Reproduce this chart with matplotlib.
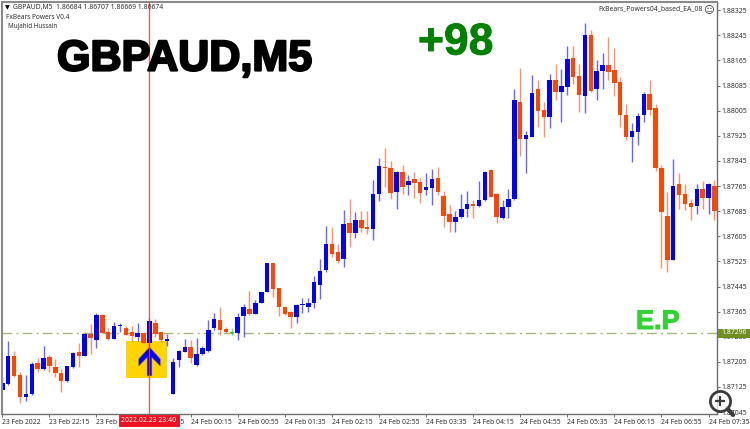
import matplotlib
matplotlib.use("Agg")
import matplotlib.pyplot as plt
import matplotlib.patheffects as pe
import numpy as np
from matplotlib.lines import Line2D
from matplotlib.patches import Rectangle
from matplotlib.path import Path

plt.rcParams["font.family"] = ["Noto Sans", "DejaVu Sans"]

# candles in points above 1.87000
BASE_PRICE = 1.87
POINT = 0.00001

open_pts = [
    116, 135, 225, 163, 94, 102, 201, 183, 220, 190,
    171, 145, 190, 237, 225, 295, 275, 354, 299, 279,
    318, 314, 299, 283, 297, 264, 328, 299, 270, 104,
    211, 238, 253, 195, 231, 240, 312, 337, 309, 298,
    298, 352, 372, 359, 391, 428, 520, 440, 379, 365,
    347, 387, 380, 391, 451, 496, 580, 556, 532, 646,
    616, 657, 633, 628, 740, 824, 823, 745, 809, 768,
    786, 779, 752, 759, 790, 734, 676, 651, 665, 693,
    709, 700, 719, 815, 741, 663, 698, 724, 1034, 915,
    922, 1073, 1007, 986, 1104, 1063, 1081, 1172, 1114, 1051,
    1246, 1074, 1130, 1150, 1134, 1095, 990, 920, 937, 990,
    1058, 1013, 823, 671, 529, 773, 739, 710, 700, 755,
    727, 765,
]
high_pts = [
    156, 273, 240, 172, 162, 206, 217, 254, 227, 214,
    183, 192, 236, 264, 296, 325, 360, 357, 314, 331,
    328, 320, 320, 328, 298, 344, 342, 301, 294, 217,
    243, 277, 275, 282, 254, 338, 360, 379, 315, 312,
    360, 389, 431, 402, 428, 520, 521, 441, 381, 367,
    389, 409, 407, 478, 531, 638, 634, 580, 688, 723,
    681, 685, 685, 784, 853, 887, 844, 812, 832, 800,
    809, 789, 808, 819, 825, 749, 706, 685, 739, 749,
    722, 782, 814, 818, 743, 722, 755, 1074, 1142, 940,
    1118, 1102, 1033, 1121, 1155, 1139, 1212, 1212, 1155, 1283,
    1262, 1166, 1189, 1240, 1205, 1113, 1026, 967, 996, 1063,
    1102, 1026, 831, 747, 851, 807, 773, 723, 771, 780,
    776, 784,
]
low_pts = [
    116, 132, 156, 75, 81, 100, 172, 179, 174, 156,
    109, 142, 185, 190, 224, 230, 248, 296, 275, 278,
    299, 289, 270, 270, 264, 248, 285, 267, 257, 104,
    190, 236, 201, 193, 227, 238, 307, 291, 296, 291,
    275, 283, 354, 357, 391, 427, 412, 352, 354, 312,
    328, 362, 363, 375, 404, 492, 540, 521, 506, 572,
    600, 619, 611, 593, 716, 763, 725, 693, 739, 735,
    728, 710, 737, 705, 735, 634, 620, 618, 662, 666,
    663, 698, 717, 729, 646, 661, 663, 722, 861, 807,
    920, 953, 922, 951, 1039, 969, 1055, 1090, 1002, 998,
    1065, 1039, 1073, 1102, 1051, 952, 911, 840, 895, 970,
    991, 813, 504, 492, 529, 691, 688, 656, 675, 693,
    675, 656,
]
close_pts = [
    137, 225, 161, 92, 103, 198, 183, 218, 192, 169,
    145, 192, 232, 225, 293, 281, 353, 296, 278, 318,
    322, 291, 287, 297, 266, 335, 294, 275, 278, 204,
    240, 252, 216, 229, 248, 307, 341, 305, 299, 298,
    349, 380, 357, 393, 428, 520, 436, 381, 357, 347,
    386, 389, 391, 460, 495, 580, 548, 527, 644, 616,
    657, 632, 629, 739, 828, 821, 742, 809, 763, 782,
    775, 742, 763, 788, 745, 669, 649, 666, 692, 709,
    700, 722, 811, 731, 665, 697, 724, 1039, 915, 927,
    1060, 1004, 985, 1104, 1063, 1083, 1171, 1112, 1054, 1247,
    1067, 1132, 1150, 1128, 1093, 990, 920, 940, 988, 1058,
    1006, 821, 681, 529, 765, 735, 708, 699, 755, 727,
    770, 686,
]

price_ticks = [1.87045, 1.87125, 1.87205, 1.87285, 1.87365, 1.87445, 1.87525, 1.87605, 1.87685,
               1.87765, 1.87845, 1.87925, 1.88005, 1.88085, 1.88165, 1.88245, 1.88325]
time_tick_bars = [0, 8, 16, 24, 32, 40, 48, 56, 64, 72, 80, 88, 96, 104, 112, 120]
time_labels = ["23 Feb 2022", "23 Feb 22:15", "23 Feb 22:55", "23 Feb 23:35", "24 Feb 00:15",
               "24 Feb 00:55", "24 Feb 01:35", "24 Feb 02:15", "24 Feb 02:55", "24 Feb 03:35",
               "24 Feb 04:15", "24 Feb 04:55", "24 Feb 05:35", "24 Feb 06:15", "24 Feb 06:55",
               "24 Feb 07:35"]

ENTRY_BAR = 25
ENTRY_PRICE = 1.87296

BLUE = "#0000FF"
ORANGE = "#FF4500"
DOJI = "#22C422"
GRAY = "#6E6E6E"
TEXT = "#303030"


def fx(px):
    return px / 750


def fy(py):
    return 1 - py / 429


def to_price(pts):
    return BASE_PRICE + np.array(pts) * POINT


o, h, l, c = map(to_price, (open_pts, high_pts, low_pts, close_pts))
bars = np.arange(len(o))
colors = [BLUE if b > a + POINT / 2 else ORANGE if a > b + POINT / 2 else DOJI for a, b in zip(o, c)]

fig = plt.figure(figsize=(7.5, 4.29), dpi=100, facecolor="white")
ax = fig.add_axes([fx(2), fy(414), fx(716.7) - fx(2), fy(2) - fy(414)])
ax.set_xlim(-0.056, 121.39)
ax.set_ylim(BASE_PRICE + 39 * POINT, BASE_PRICE + 1351 * POINT)

# signal box sits behind the candles
ax.add_patch(Rectangle((ENTRY_BAR - 4, BASE_PRICE + 154 * POINT), 7, 117 * POINT,
                       facecolor="#FFD400", edgecolor="none", zorder=1))
ax.axhline(ENTRY_PRICE, color="#A5B67C", lw=1.0, dashes=(7, 3, 1.5, 3), zorder=1.5)

ax.vlines(bars, l, h, colors=colors, lw=1.0, alpha=0.6, zorder=2)
ax.bar(bars, np.maximum(np.abs(c - o), POINT), bottom=np.minimum(o, c), width=0.76,
       color=colors, linewidth=0, zorder=2.5)

arrow = Path([(0, 1), (0.75, 0.18), (0.75, -0.3), (0.16, 0.3), (0.16, -1), (-0.16, -1),
              (-0.16, 0.3), (-0.75, -0.3), (-0.75, 0.18), (0, 1)], closed=True)
ax.scatter([ENTRY_BAR], [BASE_PRICE + 208 * POINT], marker=arrow, s=20.5 ** 2, color=BLUE,
           edgecolors="#555577", linewidths=0.4, zorder=3)
ax.axvline(ENTRY_BAR, color="#FF3030", lw=0.9, alpha=0.85, zorder=4)

for side in ("top", "left"):
    ax.spines[side].set_color("#8A8A8A")
    ax.spines[side].set_linewidth(1.5)
for side in ("right", "bottom"):
    ax.spines[side].set_color(GRAY)
    ax.spines[side].set_linewidth(1.0)

ax.yaxis.tick_right()
ax.set_yticks(price_ticks)
ax.set_yticklabels([f"{p:.5f}" for p in price_ticks], fontsize=4.9, color=TEXT)
ax.tick_params(axis="y", length=2, width=0.7, color=GRAY, pad=1.5)
ax.set_xticks(time_tick_bars)
ax.set_xticklabels(time_labels, fontsize=4.9, color=TEXT, ha="left")
ax.tick_params(axis="x", length=2.5, width=0.7, color=GRAY, pad=1.2)

# big labels
fig.text(fx(57), fy(59.5), "GBPAUD,M5", fontsize=31, fontweight="bold", family="Liberation Sans",
         color="black", va="center", ha="left",
         path_effects=[pe.withStroke(linewidth=1.6, foreground="black")])
fig.text(fx(418), fy(43), "+98", fontsize=32, fontweight="bold", family="Liberation Sans",
         color="#008000", va="center", ha="left",
         path_effects=[pe.withStroke(linewidth=0.6, foreground="#008000")])
fig.text(fx(636), fy(322), "E.P", fontsize=19.5, fontweight="bold", family="Liberation Sans",
         color="#32D232", va="center", ha="left",
         path_effects=[pe.withStroke(linewidth=0.7, foreground="#32D232")])

# chart header
fig.text(fx(5), fy(8), "\u25bc", fontsize=4.5, family="DejaVu Sans", color="black", va="center")
fig.text(fx(13.5), fy(8), "GBPAUD,M5  1.86684 1.86707 1.86669 1.86674", fontsize=4.9, color=TEXT, va="center")
fig.text(fx(6), fy(17.5), "FxBears Powers V0.4", fontsize=4.7, color=TEXT, va="center")
fig.text(fx(7.5), fy(27), "Mujahid Hussain", fontsize=4.5, color=TEXT, va="center")
fig.text(fx(703), fy(8.5), "FxBears_Powers04_based_EA_08", fontsize=4.9, color=TEXT, va="center", ha="right")
fig.text(fx(709), fy(9), "\u263a", fontsize=7.5, family="DejaVu Sans", color=TEXT, va="center", ha="center")

# crosshair time tag and last price tag
fig.text(fx(149), fy(420.7), "2022.02.23 23:40", fontsize=5, color="white", va="center", ha="center",
         zorder=6, bbox=dict(boxstyle="square,pad=0", facecolor="#F01020", edgecolor="#F01020", linewidth=3.5))
fig.add_artist(Rectangle((fx(718), fy(337.5)), fx(32), fy(328.5) - fy(337.5), transform=fig.transFigure,
                         facecolor="#6F8F22", edgecolor="none", zorder=5))
fig.text(fx(721), fy(333), "1.87296", fontsize=4.9, color="white", va="center", ha="left", zorder=6)

# zoom badge in the corner
fig.add_artist(Line2D([fx(727), fx(733)], [fy(408), fy(415)], color="#3C3C3C", lw=3,
                      solid_capstyle="round", transform=fig.transFigure, zorder=7))
fig.add_artist(Line2D([fx(720)], [fy(401)], marker="o", ms=14.5, mfc=(1, 1, 1, 0.75), mec="#3C3C3C",
                      mew=2, transform=fig.transFigure, zorder=7))
fig.add_artist(Line2D([fx(720)], [fy(401)], marker="+", ms=7.5, mec="#3C3C3C", mew=1.6,
                      transform=fig.transFigure, zorder=8))

fig.savefig("out.png", dpi=100)
plt.close()
